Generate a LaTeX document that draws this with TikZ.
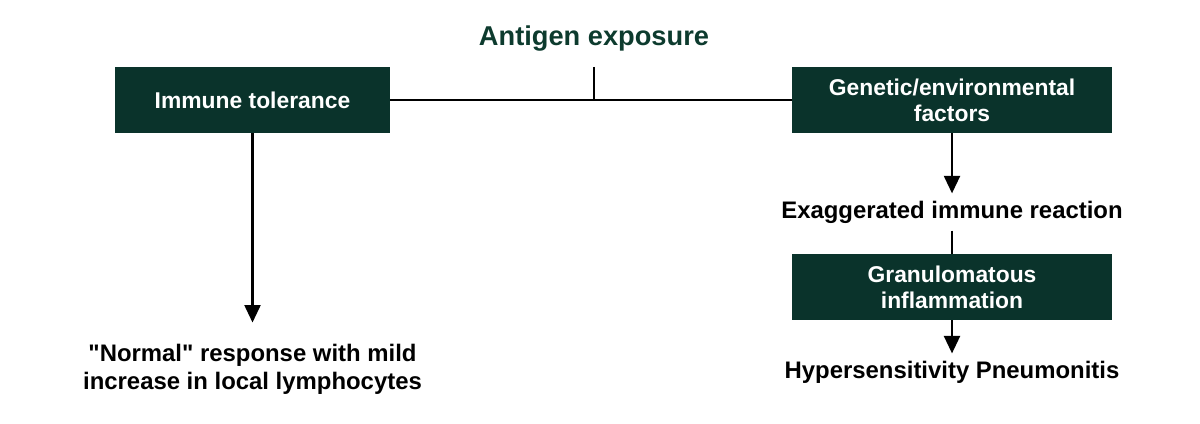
\documentclass[tikz,border=0pt]{standalone}
\usepackage{fontspec}
\setmainfont{Liberation Sans}
\usepackage{tikz}
\usetikzlibrary{arrows.meta, positioning}

\definecolor{boxgreen}{HTML}{0A332B}
\definecolor{titlegreen}{HTML}{0D3B2E}

\tikzset{
    box/.style = {fill=boxgreen, text=white, font=\bfseries\fontsize{13}{14.8}\selectfont,
        minimum width=6.4cm, minimum height=1.32cm, align=center, inner sep=2pt},
    txt/.style = {font=\bfseries\fontsize{13.6}{15.8}\selectfont, align=center, inner sep=4pt},
    link/.style = {line width=1.6pt},
    arr/.style = {line width=1.6pt, -{Triangle[width=9pt, length=10pt]}}
}

\begin{document}
\begin{tikzpicture}
    \useasboundingbox (0,0) rectangle (24,-8.46);

    \node[font=\bfseries\fontsize{15.5}{18}\selectfont, text=titlegreen] (antigen) at (11.88,-0.78) {Antigen exposure};

    \node[box, minimum width=5.5cm] (tolerance) at (5.05,-2.0) {Immune tolerance};
    \node[box] (genetic) at (19.04,-2.0) {Genetic/environmental\\factors};

    \node[txt] (exag) at (19.04,-4.24) {Exaggerated immune reaction};
    \node[box] (granul) at (19.04,-5.74) {Granulomatous\\inflammation};
    \node[txt] (hyper) at (19.04,-7.44) {Hypersensitivity Pneumonitis};

    \node[txt] (normal) at (5.05,-7.38) {\textquotedbl Normal\textquotedbl{} response with mild\\increase in local lymphocytes};

    \coordinate (tick) at (11.88,-1.34);
    \coordinate (join) at (11.88,-2.0);

    \draw[link] (tolerance.east) -- (genetic.west);
    \draw[link] (tick) -- (join);

    \draw[arr] (tolerance.south) -- ([yshift=0.28cm]normal.north);
    \draw[arr] (genetic.south) -- (exag.north);
    \draw[link] (exag.south) -- (granul.north);
    \draw[arr] (granul.south) -- (hyper.north);
\end{tikzpicture}
\end{document}
